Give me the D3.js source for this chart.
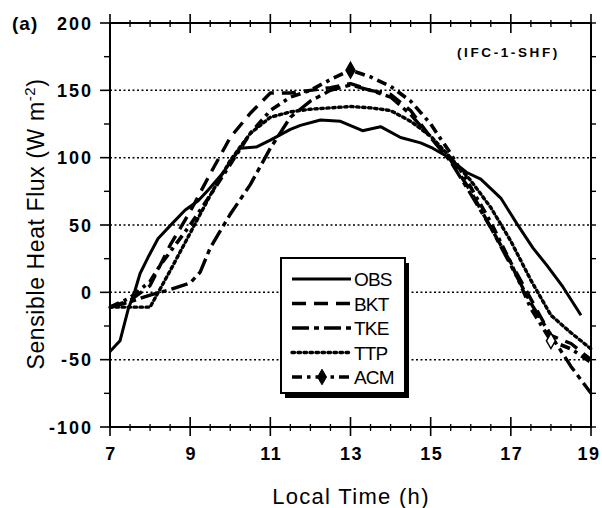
<!DOCTYPE html>
<html><head><meta charset="utf-8">
<script src="https://cdn.jsdelivr.net/npm/d3@7"></script>
<style>
html,body{margin:0;padding:0;background:#fff;}
svg{display:block;font-family:"Liberation Sans",Arial,sans-serif;}
</style></head>
<body><svg id="c" width="602" height="508"></svg>
<script>
// ---- data ----
const obsT = [7,7.25,7.45,7.62,7.75,7.95,8.2,8.55,8.87,9.2,9.45,9.8,10.25,10.66,11,11.5,11.75,12.25,12.75,13.3,13.75,14.25,14.75,15.05,15.4,15.6,15.9,16.25,16.75,17.15,17.55,17.9,18.3,18.75];
const obsV = [-44,-36,-13,1,14,26,40,51,61,68,76,88,107,108,113,121,124,128,127,120,123,115,111,107,101,96,89,84,70,51,33,20,4,-17];

const bktT = [7,7.5,8,8.5,9,9.5,10,10.5,11,11.5,12,12.5,13,13.5,14,14.5,15,15.5,16,16.5,17,17.5,18,18.5,19];
const bktV = [-11,-6,5,35,60,88,115,133,148,148,150,152,155,150,147,135,115,98,75,48,22,-5,-32,-38,-50];

const tkeT = [7,7.5,8,8.25,8.5,9,9.25,9.5,10,10.5,11,11.5,12,12.5,13,13.5,14,14.5,15,15.5,16,16.5,17,17.5,18,18.5,19];
const tkeV = [-11,-7,-2,0,2,7,15,33,58,80,107,130,142,150,154,150,145,132,115,97,73,48,20,-8,-32,-55,-75];

const ttpT = [7,7.5,8,8.5,9,9.5,10,10.5,11,11.5,12,12.5,13,13.5,14,14.5,15,15.5,16,16.5,17,17.5,18,18.5,19];
const ttpV = [-11,-11,-11,16,44,72,98,118,130,134,136,137,138,137,135,127,116,100,83,63,38,9,-17,-30,-42];

const acmT = [7,7.5,8,8.25,8.5,9,9.5,10,10.5,11,11.5,12,12.5,13,13.5,14,14.5,15,15.5,16,16.5,17,17.5,18,18.5,19];
const acmV = [-11,-4,8,20,30,50,72,95,118,135,145,150,158,165,160,153,142,125,103,78,52,22,-12,-36,-42,-52];
const acmMarkT = [13,18];

const seriesNames = ["OBS","BKT","TKE","TTP","ACM"];
const xTicks = [7,9,11,13,15,17,19];
const yTicks = [-100,-50,0,50,100,150,200];
const gridVals = [-50,0,50,100,150];

// ---- layout ----
const svg = d3.select("#c");
const x = d3.scaleLinear().domain([7,19]).range([110,591]);
const y = d3.scaleLinear().domain([-100,200]).range([427,23]);

// grid
svg.append("g").selectAll("line").data(gridVals).join("line")
  .attr("x1",x(7)).attr("x2",x(19)).attr("y1",d=>y(d)).attr("y2",d=>y(d))
  .attr("stroke","#000").attr("stroke-width",1.5).attr("stroke-dasharray","2,2.5");

// series
const styles = {
  OBS:{dash:null,w:3},
  BKT:{dash:"14,8",w:3.4},
  TKE:{dash:"17,5,5,5",w:3.4},
  TTP:{dash:"2.5,3.5",w:3.4},
  ACM:{dash:"10,5,3.5,5",w:3.6}
};
const sdata = {
  OBS: obsT.map((t,i)=>[t,obsV[i]]),
  BKT: bktT.map((t,i)=>[t,bktV[i]]),
  TKE: tkeT.map((t,i)=>[t,tkeV[i]]),
  TTP: ttpT.map((t,i)=>[t,ttpV[i]]),
  ACM: acmT.map((t,i)=>[t,acmV[i]])
};
const line = d3.line().x(d=>x(d[0])).y(d=>y(d[1]));
const lg = svg.append("g");
["TTP","TKE","BKT","ACM","OBS"].forEach(n=>{
  lg.append("path").datum(sdata[n]).attr("d",line).attr("fill","none")
    .attr("stroke","#000").attr("stroke-width",styles[n].w)
    .attr("stroke-dasharray",styles[n].dash)
    .attr("stroke-linecap", n==="TTP"?"round":"butt")
    .attr("stroke-linejoin","round");
});
const diamond = d3.symbol().type(d3.symbolDiamond).size(70);
lg.selectAll(".mk").data(acmMarkT).join("path")
  .attr("transform",t=>`translate(${x(t)},${y(acmV[acmT.indexOf(t)])})`)
  .attr("d",diamond).attr("fill",(t,i)=>i===0?"#000":"#fff")
  .attr("stroke","#000").attr("stroke-width",1.5);

// frame
svg.append("rect").attr("x",x(7)).attr("y",y(200)).attr("width",x(19)-x(7)).attr("height",y(-100)-y(200))
  .attr("fill","none").attr("stroke","#000").attr("stroke-width",2);

// x ticks
const xMinor = d3.range(7,19.01,0.5).filter(v=>!xTicks.includes(v));
const tk = svg.append("g").attr("stroke","#000");
tk.selectAll(".xb").data(xTicks).join("line").attr("x1",d=>x(d)).attr("x2",d=>x(d))
  .attr("y1",y(-100)-10).attr("y2",y(-100)+9).attr("stroke-width",1.6);
tk.selectAll(".xt").data(xTicks).join("line").attr("x1",d=>x(d)).attr("x2",d=>x(d))
  .attr("y1",y(200)-9).attr("y2",y(200)+10).attr("stroke-width",1.6);
tk.selectAll(".xbm").data(xMinor).join("line").attr("x1",d=>x(d)).attr("x2",d=>x(d))
  .attr("y1",y(-100)-3).attr("y2",y(-100)+4).attr("stroke-width",1.3);
tk.selectAll(".xtm").data(xMinor).join("line").attr("x1",d=>x(d)).attr("x2",d=>x(d))
  .attr("y1",y(200)-3).attr("y2",y(200)+4).attr("stroke-width",1.3);
// y ticks
const yMinor = d3.range(-75,200,50);
tk.selectAll(".yl").data(yTicks).join("line").attr("y1",d=>y(d)).attr("y2",d=>y(d))
  .attr("x1",x(7)-10).attr("x2",x(7)).attr("stroke-width",1.6);
tk.selectAll(".ylm").data(yMinor).join("line").attr("y1",d=>y(d)).attr("y2",d=>y(d))
  .attr("x1",x(7)-6).attr("x2",x(7)).attr("stroke-width",1.4);
tk.selectAll(".yr").data(yTicks.concat(yMinor)).join("line").attr("y1",d=>y(d)).attr("y2",d=>y(d))
  .attr("x1",x(19)).attr("x2",x(19)+5).attr("stroke-width",1.4);

// tick labels
svg.append("g").selectAll("text").data(yTicks).join("text")
  .attr("x",93).attr("y",d=>y(d)+6.5).attr("text-anchor","end")
  .attr("font-size",18).attr("font-weight","bold").attr("letter-spacing",2)
  .text(d=>d);
svg.append("g").selectAll("text").data(xTicks).join("text")
  .attr("x",d=>x(d)+(d===19?-2:1)).attr("y",460).attr("text-anchor","middle")
  .attr("font-size",18).attr("font-weight","bold").attr("letter-spacing",1.5)
  .text(d=>d);

// titles
svg.append("text").attr("x",12).attr("y",30).attr("font-size",19).attr("font-weight","bold")
  .attr("letter-spacing",1).text("(a)");
svg.append("text").attr("x",457).attr("y",57).attr("font-size",13.5).attr("font-weight","bold")
  .attr("letter-spacing",2.6).text("(IFC-1-SHF)");
svg.append("text").attr("x",351).attr("y",504).attr("text-anchor","middle")
  .attr("font-size",22).attr("letter-spacing",1.3).text("Local Time (h)");
const yt = svg.append("text").attr("transform","translate(44,224) rotate(-90)")
  .attr("text-anchor","middle").attr("font-size",23).attr("letter-spacing",0.6);
yt.append("tspan").text("Sensible Heat Flux (W m");
yt.append("tspan").attr("dy",-9).attr("font-size",15).text("-2");
yt.append("tspan").attr("dy",9).text(")");

// legend
const L = {x0:281,y0:258,w:124,h:135};
const leg = svg.append("g");
leg.append("rect").attr("x",L.x0+4).attr("y",L.y0+5).attr("width",L.w).attr("height",L.h).attr("fill","#000");
leg.append("rect").attr("x",L.x0).attr("y",L.y0).attr("width",L.w).attr("height",L.h)
  .attr("fill","#fff").attr("stroke","#000").attr("stroke-width",2);
const rowY = d3.scalePoint().domain(seriesNames).range([279,377]);
seriesNames.forEach(n=>{
  const yy = rowY(n);
  leg.append("line").attr("x1",292).attr("x2",351).attr("y1",yy).attr("y2",yy)
    .attr("stroke","#000").attr("stroke-width",styles[n].w)
    .attr("stroke-dasharray",styles[n].dash).attr("stroke-linecap",n==="TTP"?"round":"butt");
  if(n==="ACM"){
    leg.append("path").attr("transform",`translate(322,${yy})`).attr("d",diamond)
      .attr("fill","#000").attr("stroke","#000");
  }
  leg.append("text").attr("x",354).attr("y",yy+7).attr("font-size",19).attr("letter-spacing",-0.8).text(n);
});
</script></body></html>
